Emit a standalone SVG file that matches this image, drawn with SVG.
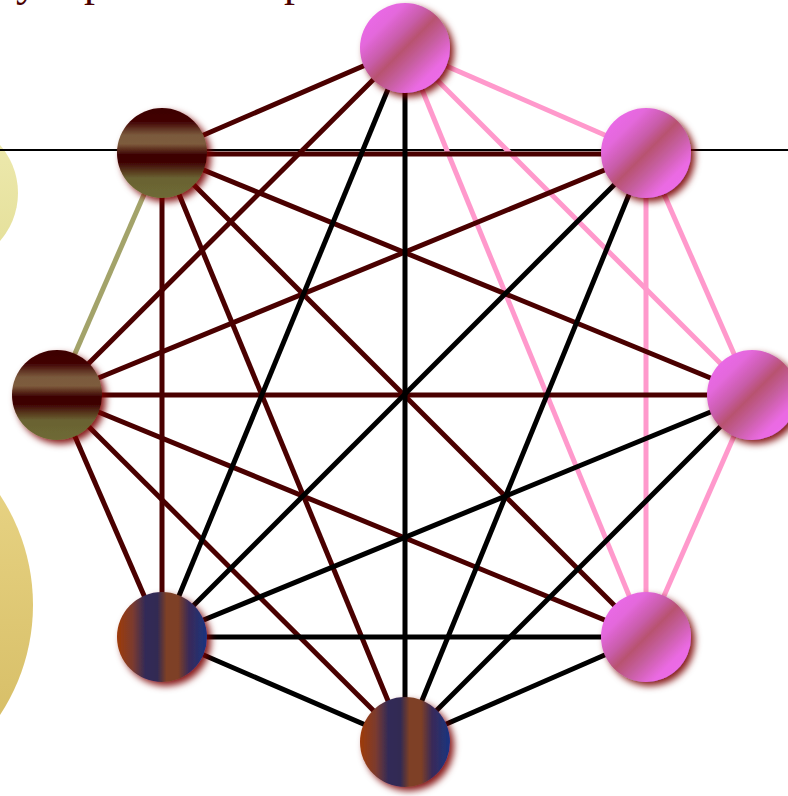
<svg xmlns="http://www.w3.org/2000/svg" width="788" height="796" viewBox="0 0 788 796">
<defs>
<style>
.e{stroke-width:5;stroke-linecap:butt;fill:none}
.dr{stroke:#4a0000}
.bk{stroke:#000000}
.pk{stroke:#ff99cc}
.ol{stroke:#a3a36a}
.node{filter:url(#sh)}
</style>
<filter id="sh" x="-30%" y="-30%" width="170%" height="170%">
<feDropShadow dx="4" dy="4" stdDeviation="3.5" flood-color="#7a0000" flood-opacity="0.9"/>
</filter>
<linearGradient id="gPink" x1="0" y1="0" x2="1" y2="1">
<stop offset="0" stop-color="#f06af2"/>
<stop offset="0.25" stop-color="#e468dc"/>
<stop offset="0.4" stop-color="#c85ca8"/>
<stop offset="0.5" stop-color="#b85270"/>
<stop offset="0.62" stop-color="#c65e9e"/>
<stop offset="0.78" stop-color="#ea6ae2"/>
<stop offset="1" stop-color="#f070f2"/>
</linearGradient>
<linearGradient id="gBrown" x1="0" y1="0" x2="0" y2="1">
<stop offset="0" stop-color="#3c0000"/>
<stop offset="0.15" stop-color="#420404"/>
<stop offset="0.3" stop-color="#7a5a3c"/>
<stop offset="0.4" stop-color="#7d5b3c"/>
<stop offset="0.52" stop-color="#3c0000"/>
<stop offset="0.6" stop-color="#3e0202"/>
<stop offset="0.78" stop-color="#6a6232"/>
<stop offset="1" stop-color="#6e6a35"/>
</linearGradient>
<linearGradient id="gBlue" x1="0" y1="0" x2="1" y2="0">
<stop offset="0" stop-color="#9e3a08"/>
<stop offset="0.18" stop-color="#7a3a30"/>
<stop offset="0.32" stop-color="#302a58"/>
<stop offset="0.45" stop-color="#322a52"/>
<stop offset="0.55" stop-color="#7e3f25"/>
<stop offset="0.68" stop-color="#7e3f25"/>
<stop offset="0.8" stop-color="#3a2a58"/>
<stop offset="1" stop-color="#183480"/>
</linearGradient>
<linearGradient id="gY1" x1="0" y1="0" x2="0" y2="1">
<stop offset="0" stop-color="#eeeab0"/>
<stop offset="1" stop-color="#e4df98"/>
</linearGradient>
<linearGradient id="gY2" x1="0" y1="0" x2="0" y2="1">
<stop offset="0" stop-color="#ecd98c"/>
<stop offset="1" stop-color="#d2b85e"/>
</linearGradient>
</defs>
<rect width="788" height="796" fill="#ffffff"/>
<text font-family="Liberation Serif, serif" font-size="44" fill="#4a0000" y="-4"><tspan x="16">y</tspan><tspan x="84">p</tspan><tspan x="284">p</tspan></text>
<circle cx="-55" cy="193" r="73" fill="url(#gY1)"/>
<circle cx="-167" cy="605" r="200" fill="url(#gY2)"/>
<line x1="0" y1="150" x2="788" y2="150" stroke="#000" stroke-width="2"/>
<g id="connectors">
<line class="e pk" x1="405" y1="48" x2="646" y2="153"/>
<line class="e pk" x1="405" y1="48" x2="752" y2="395"/>
<line class="e pk" x1="405" y1="48" x2="646" y2="637"/>
<line class="e pk" x1="646" y1="153" x2="752" y2="395"/>
<line class="e pk" x1="646" y1="153" x2="646" y2="637"/>
<line class="e pk" x1="752" y1="395" x2="646" y2="637"/>
<line class="e ol" x1="162" y1="153" x2="57" y2="395"/>
<line class="e dr" x1="162" y1="153" x2="405" y2="48"/>
<line class="e dr" x1="162" y1="154" x2="646" y2="154"/>
<line class="e dr" x1="162" y1="153" x2="752" y2="395"/>
<line class="e dr" x1="162" y1="153" x2="646" y2="637"/>
<line class="e dr" x1="162" y1="153" x2="405" y2="742"/>
<line class="e dr" x1="162" y1="153" x2="162" y2="637"/>
<line class="e dr" x1="57" y1="395" x2="405" y2="48"/>
<line class="e dr" x1="57" y1="395" x2="646" y2="153"/>
<line class="e dr" x1="57" y1="395" x2="752" y2="395"/>
<line class="e dr" x1="57" y1="395" x2="646" y2="637"/>
<line class="e dr" x1="57" y1="395" x2="405" y2="742"/>
<line class="e dr" x1="57" y1="395" x2="162" y2="637"/>
<line class="e bk" x1="162" y1="637" x2="405" y2="48"/>
<line class="e bk" x1="162" y1="637" x2="646" y2="153"/>
<line class="e bk" x1="162" y1="637" x2="752" y2="395"/>
<line class="e bk" x1="162" y1="637" x2="646" y2="637"/>
<line class="e bk" x1="162" y1="637" x2="405" y2="742"/>
<line class="e bk" x1="405" y1="742" x2="405" y2="48"/>
<line class="e bk" x1="405" y1="742" x2="646" y2="153"/>
<line class="e bk" x1="405" y1="742" x2="752" y2="395"/>
<line class="e bk" x1="405" y1="742" x2="646" y2="637"/>
</g>
<g id="n-top" class="node"><circle cx="405" cy="48" r="45" fill="url(#gPink)"/></g>
<g id="n-topright" class="node"><circle cx="646" cy="153" r="45" fill="url(#gPink)"/></g>
<g id="n-right" class="node"><circle cx="752" cy="395" r="45" fill="url(#gPink)"/></g>
<g id="n-bottomright" class="node"><circle cx="646" cy="637" r="45" fill="url(#gPink)"/></g>
<g id="n-topleft" class="node"><circle cx="162" cy="153" r="45" fill="url(#gBrown)"/></g>
<g id="n-left" class="node"><circle cx="57" cy="395" r="45" fill="url(#gBrown)"/></g>
<g id="n-bottomleft" class="node"><circle cx="162" cy="637" r="45" fill="url(#gBlue)"/></g>
<g id="n-bottom" class="node"><circle cx="405" cy="742" r="45" fill="url(#gBlue)"/></g>
</svg>
